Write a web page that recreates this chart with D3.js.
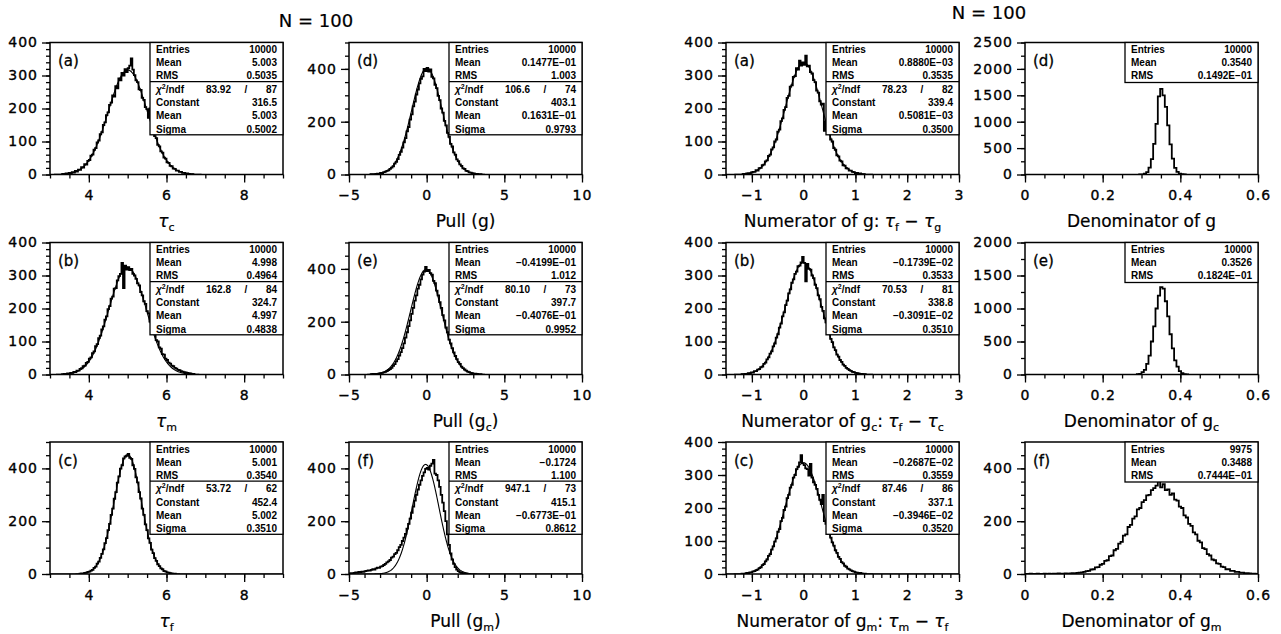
<!DOCTYPE html>
<html lang="en">
<head>
<meta charset="UTF-8">
<title>N = 100 distributions</title>
<script src="https://d3js.org/d3.v7.min.js"></script>
<style>
  body, html { margin: 0; padding: 0; background: #fff; }
  svg { display: block; }
  .tick text { font-family: 'DejaVu Sans', sans-serif; font-size: 14px; letter-spacing: 1px; fill: #000; stroke: #000; stroke-width: 0.35px; }
  .tick line { stroke: #000; stroke-width: 1.3; }
  .stat { font-family: 'Liberation Sans', Arial, sans-serif; font-weight: bold; font-size: 10px; fill: #000; }
  .title { font-family: 'DejaVu Sans', sans-serif; font-size: 17px; fill: #000; stroke: #000; stroke-width: 0.2px; }
  .tag { font-family: 'DejaVu Sans', sans-serif; font-size: 15px; fill: #000; stroke: #000; stroke-width: 0.3px; }
</style>
</head>
<body>
<svg width="1281" height="634"></svg>
<script>
// ---- histogram contents (bin counts) ----
// tau_c, bins of 0.04 starting at 3.28
const countsTauC = [0,2,1,3,2,5,3,7,6,11,9,15,14,22,21,31,30,41,44,57,60,75,80,97,103,122,128,150,158,180,
  188,211,218,240,236,268,261,291,285,308,300,319,310,
  322,330,352,318,301,285,280,258,256,232,226,204,198,172,200,148,135,116,110,90,85,70,66,51,48,37,35,26,25,18,
  17,12,12,8,8,5,5,3,3,2,1,1,0];
// tau_m, bins of 0.04 starting at 3.28
const countsTauM = [0,1,2,1,3,3,5,5,8,7,12,12,17,19,25,27,35,38,48,52,65,70,86,92,110,118,137,146,166,176,
  198,207,230,236,260,262,285,298,305,338,262,330,318,
  325,316,320,305,300,290,276,270,250,240,222,214,192,185,160,155,132,126,104,100,82,78,62,60,48,44,36,33,27,25,
  20,18,14,13,10,9,7,6,5,4,3,2,2];
// tau_f, bins of 0.04 starting at 3.76
const countsTauF = [1,2,2,4,5,8,9,13,16,23,28,39,47,61,76,93,117,136,166,190,224,248,285,310,346,370,399,412,438,445,448,
  455,440,436,412,398,366,347,310,286,248,224,188,166,135,118,92,79,60,50,37,30,21,18,11,10,6,5,3,2,1,1];
// Pull (g), bins of 0.1 starting at -3.6
const countsPullG = [1,0,1,2,3,3,6,5,9,11,14,16,21,26,31,41,48,58,74,86,102,122,138,163,180,208,228,258,276,303,
  322,345,362,372,400,392,
  404,390,398,370,364,340,327,298,282,250,234,203,186,158,143,116,106,84,75,57,51,38,33,23,21,14,13,8,7,5,4,2,2,1,1,0];
// Pull (g_c), bins of 0.1 starting at -3.6
const countsPullGc = [1,2,1,2,2,4,5,6,8,10,13,17,20,25,33,39,50,58,72,85,100,118,140,160,183,205,230,252,280,300,
  325,340,360,378,390,408,
  392,396,384,378,355,346,318,300,274,252,225,205,178,160,132,118,100,84,70,58,47,40,30,24,19,15,11,9,6,5,3,3,2,1,1,0];
// Pull (g_m), bins of 0.1 starting at -5.0
const countsPullGm = [2,3,3,4,6,5,8,7,9,8,11,12,14,13,16,18,17,21,24,23,28,30,34,38,44,48,53,62,66,75,
  80,90,102,110,125,138,152,172,190,210,232,255,278,300,320,338,355,372,385,398,
  402,395,410,418,432,380,375,355,330,300,270,238,200,150,110,78,55,38,26,17,11,7,4,3,2,1];
// Numerator of g, bins of 0.03 starting at -1.2
const countsNumG = [0,2,1,3,4,3,6,8,8,13,12,19,20,28,30,40,43,56,60,76,82,100,106,130,136,162,170,196,204,232,
  238,266,270,296,298,322,318,345,330,340,
  332,360,328,330,310,306,286,280,254,248,222,212,215,132,160,138,128,106,100,80,75,58,55,42,40,28,27,19,18,12,
  12,8,7,4,5,2,3,1,1,0];
// Numerator of g_c, bins of 0.03 starting at -1.2
const countsNumGc = [1,1,2,2,4,4,6,6,10,10,15,16,22,24,32,36,46,52,63,70,85,94,112,122,142,154,176,188,210,224,
  246,258,278,288,305,312,328,330,340,356,
  338,282,335,320,318,300,292,272,262,240,228,205,193,170,158,138,126,108,98,82,74,60,54,44,38,30,26,20,17,13,
  11,8,7,5,4,3,2,2,1,1];
// Numerator of g_m, bins of 0.03 starting at -1.2
const countsNumGm = [1,1,1,3,3,5,5,8,9,12,13,18,20,27,30,38,44,55,60,74,84,98,108,128,136,160,170,194,204,230,
  240,262,270,292,300,318,325,338,360,335,
  330,320,318,298,334,292,278,270,258,240,225,212,240,160,152,140,124,110,96,86,72,64,52,46,36,32,25,22,16,14,
  11,9,7,5,4,3,3,2,1,1];
// Denominator of g, bins of 0.006 starting at 0.294
const countsDenG = [1,4,15,45,130,290,580,960,1480,1620,1500,1280,930,570,300,125,50,15,5,2];
// Denominator of g_c, bins of 0.006 starting at 0.288
const countsDenGc = [5,10,35,70,160,285,500,730,1000,1195,1325,1300,1110,880,610,395,215,118,50,22,7,3];
// Denominator of g_m, bins of 0.006 starting at 0
const countsDenGm = [0,0,1,0,0,1,0,0,1,0, 1,0,1,1,2,1,1,2,1,2, 3,2,4,5,6,8,11,12,17,18,
  25,26,35,38,50,52,68,70,90,95, 115,122,145,150,178,186,210,218,245,250,
  272,280,298,300,318,325,335,352,328,340, 318,320,300,305,282,278,255,250,222,214,
  190,182,158,150,126,120,98,94,75,70, 55,52,40,38,28,26,18,18,12,12, 8,8,5,5,3,3,2,1,1,0];

// ---- statistics boxes: Entries, Mean, RMS ----
const statsTauC = ["10000", "5.003", "0.5035"];
const statsTauM = ["10000", "4.998", "0.4964"];
const statsTauF = ["10000", "5.001", "0.3540"];
const statsPullG = ["10000", "0.1477E\u221201", "1.003"];
const statsPullGc = ["10000", "\u22120.4199E\u221201", "1.012"];
const statsPullGm = ["10000", "\u22120.1724", "1.100"];
const statsNumG = ["10000", "0.8880E\u221203", "0.3535"];
const statsNumGc = ["10000", "\u22120.1739E\u221202", "0.3533"];
const statsNumGm = ["10000", "\u22120.2687E\u221202", "0.3559"];
const statsDenG = ["10000", "0.3540", "0.1492E\u221201"];
const statsDenGc = ["10000", "0.3526", "0.1824E\u221201"];
const statsDenGm = ["9975", "0.3488", "0.7444E\u221201"];

// ---- gaussian fits: chi2, ndf, Constant, Mean, Sigma (as printed) ----
const fitTextTauC = ["83.92", "87", "316.5", "5.003", "0.5002"];
const fitTextTauM = ["162.8", "84", "324.7", "4.997", "0.4838"];
const fitTextTauF = ["53.72", "62", "452.4", "5.002", "0.3510"];
const fitTextPullG = ["106.6", "74", "403.1", "0.1631E\u221201", "0.9793"];
const fitTextPullGc = ["80.10", "73", "397.7", "\u22120.4076E\u221201", "0.9952"];
const fitTextPullGm = ["947.1", "73", "415.1", "\u22120.6773E\u221201", "0.8612"];
const fitTextNumG = ["78.23", "82", "339.4", "0.5081E\u221203", "0.3500"];
const fitTextNumGc = ["70.53", "81", "338.8", "\u22120.3091E\u221202", "0.3510"];
const fitTextNumGm = ["87.46", "86", "337.1", "\u22120.3946E\u221202", "0.3520"];
// numeric fit parameters: constant, mean, sigma
const fitParTauC = [316.5, 5.003, 0.5002];
const fitParTauM = [324.7, 4.997, 0.4838];
const fitParTauF = [452.4, 5.002, 0.3510];
const fitParPullG = [403.1, 0.01631, 0.9793];
const fitParPullGc = [397.7, -0.04076, 0.9952];
const fitParPullGm = [415.1, -0.06773, 0.8612];
const fitParNumG = [339.4, 0.0005081, 0.3500];
const fitParNumGc = [338.8, -0.003091, 0.3510];
const fitParNumGm = [337.1, -0.003946, 0.3520];

// ---- axis ticks ----
const xTicksTau = [4, 6, 8];
const xTicksPull = [-5, 0, 5, 10];
const xTicksNum = [-1, 0, 1, 2, 3];
const xTicksDen = [0, 0.2, 0.4, 0.6];
const yTicks400 = [0, 100, 200, 300, 400];
const yTicks500 = [0, 200, 400];
const yTicks2500 = [0, 500, 1000, 1500, 2000, 2500];
const yTicks2000 = [0, 500, 1000, 1500, 2000];

// ---- titles (text pieces: n normal, i italic, s subscript) ----
const tau = s => [["\u03c4", "i"], [s, "s"]];
const titleTauC = tau("c"), titleTauM = tau("m"), titleTauF = tau("f");
const titlePullG = [["Pull (g)", "n"]];
const titlePullGc = [["Pull (g", "n"], ["c", "s"], [")", "n"]];
const titlePullGm = [["Pull (g", "n"], ["m", "s"], [")", "n"]];
const titleNumG = [["Numerator of g: ", "n"], ...tau("f"), [" \u2212 ", "n"], ...tau("g")];
const titleNumGc = [["Numerator of g", "n"], ["c", "s"], [": ", "n"], ...tau("f"), [" \u2212 ", "n"], ...tau("c")];
const titleNumGm = [["Numerator of g", "n"], ["m", "s"], [": ", "n"], ...tau("m"), [" \u2212 ", "n"], ...tau("f")];
const titleDenG = [["Denominator of g", "n"]];
const titleDenGc = [["Denominator of g", "n"], ["c", "s"]];
const titleDenGm = [["Denominator of g", "n"], ["m", "s"]];

const colX = [50, 349, 726, 1025];
const rowY = [42.5, 242.5, 442];
const W = 233, H = 132;

const fmtInt = d3.format("d");
const fmtDen = d => d === 0 ? "0" : d3.format(".1f")(d);

const tauAxis = {xd: [3, 9], xt: xTicksTau, xm: 0.5, xf: fmtInt};
const pullAxis = {xd: [-5, 10], xt: xTicksPull, xm: 1, xf: fmtInt};
const numAxis = {xd: [-1.5, 3], xt: xTicksNum, xm: 1 / 6, xf: fmtInt};
const denAxis = {xd: [0, 0.6], xt: xTicksDen, xm: 0.05, xf: fmtDen};

const panels = [
  {c: 0, r: 0, tag: "(a)", ...tauAxis, yd: 400, yt: yTicks400, ym: 20, counts: countsTauC, start: 3.28, bw: 0.04, stats: statsTauC, fitText: fitTextTauC, fit: fitParTauC, title: titleTauC},
  {c: 0, r: 1, tag: "(b)", ...tauAxis, yd: 400, yt: yTicks400, ym: 20, counts: countsTauM, start: 3.28, bw: 0.04, stats: statsTauM, fitText: fitTextTauM, fit: fitParTauM, title: titleTauM},
  {c: 0, r: 2, tag: "(c)", ...tauAxis, yd: 500, yt: yTicks500, ym: 50, counts: countsTauF, start: 3.76, bw: 0.04, stats: statsTauF, fitText: fitTextTauF, fit: fitParTauF, title: titleTauF},
  {c: 1, r: 0, tag: "(d)", ...pullAxis, yd: 500, yt: yTicks500, ym: 50, counts: countsPullG, start: -3.6, bw: 0.1, stats: statsPullG, fitText: fitTextPullG, fit: fitParPullG, title: titlePullG},
  {c: 1, r: 1, tag: "(e)", ...pullAxis, yd: 500, yt: yTicks500, ym: 50, counts: countsPullGc, start: -3.6, bw: 0.1, stats: statsPullGc, fitText: fitTextPullGc, fit: fitParPullGc, title: titlePullGc},
  {c: 1, r: 2, tag: "(f)", ...pullAxis, yd: 500, yt: yTicks500, ym: 50, counts: countsPullGm, start: -5.0, bw: 0.1, stats: statsPullGm, fitText: fitTextPullGm, fit: fitParPullGm, title: titlePullGm},
  {c: 2, r: 0, tag: "(a)", ...numAxis, yd: 400, yt: yTicks400, ym: 20, counts: countsNumG, start: -1.2, bw: 0.03, stats: statsNumG, fitText: fitTextNumG, fit: fitParNumG, title: titleNumG},
  {c: 2, r: 1, tag: "(b)", ...numAxis, yd: 400, yt: yTicks400, ym: 20, counts: countsNumGc, start: -1.2, bw: 0.03, stats: statsNumGc, fitText: fitTextNumGc, fit: fitParNumGc, title: titleNumGc},
  {c: 2, r: 2, tag: "(c)", ...numAxis, yd: 400, yt: yTicks400, ym: 20, counts: countsNumGm, start: -1.2, bw: 0.03, stats: statsNumGm, fitText: fitTextNumGm, fit: fitParNumGm, title: titleNumGm},
  {c: 3, r: 0, tag: "(d)", ...denAxis, yd: 2500, yt: yTicks2500, ym: 250, counts: countsDenG, start: 0.294, bw: 0.006, stats: statsDenG, title: titleDenG},
  {c: 3, r: 1, tag: "(e)", ...denAxis, yd: 2000, yt: yTicks2000, ym: 250, counts: countsDenGc, start: 0.288, bw: 0.006, stats: statsDenGc, title: titleDenGc},
  {c: 3, r: 2, tag: "(f)", ...denAxis, yd: 500, yt: yTicks500, ym: 50, counts: countsDenGm, start: 0, bw: 0.006, stats: statsDenGm, title: titleDenGm}
];

const svg = d3.select("svg");

svg.append("text").attr("class", "title").style("font-size", "18px")
  .attr("x", 316).attr("y", 27).attr("text-anchor", "middle").text("N = 100");
svg.append("text").attr("class", "title").style("font-size", "18px")
  .attr("x", 989).attr("y", 19).attr("text-anchor", "middle").text("N = 100");

panels.forEach((p, idx) => {
  const g = svg.append("g").attr("transform", `translate(${colX[p.c]},${rowY[p.r]})`);
  const x = d3.scaleLinear().domain(p.xd).range([0, W]);
  const y = d3.scaleLinear().domain([0, p.yd]).range([H, 0]);

  const clipId = "clip" + idx;
  g.append("clipPath").attr("id", clipId).append("rect").attr("width", W).attr("height", H);
  const plot = g.append("g").attr("clip-path", `url(#${clipId})`);

  // histogram outline
  let d = `M${x(p.start)},${y(0)}`;
  p.counts.forEach((v, i) => {
    d += `V${y(v)}H${x(p.start + (i + 1) * p.bw)}`;
  });
  d += `V${y(0)}`;
  plot.append("path").attr("d", d).attr("fill", "none")
    .attr("stroke", "#000").attr("stroke-width", 1.8).attr("stroke-linejoin", "miter");

  // gaussian fit curve
  if (p.fit) {
    const [k, m, s] = p.fit;
    const xs = d3.range(801).map(i => p.xd[0] + (p.xd[1] - p.xd[0]) * i / 800);
    const line = d3.line().x(v => x(v)).y(v => y(k * Math.exp(-0.5 * ((v - m) / s) ** 2)));
    plot.append("path").attr("d", line(xs)).attr("fill", "none")
      .attr("stroke", "#000").attr("stroke-width", 1.1);
  }

  // axes: minor ticks, then major ticks with labels
  const minorX = d3.range(0, Math.round((p.xd[1] - p.xd[0]) / p.xm) + 1).map(i => p.xd[0] + i * p.xm);
  const minorY = d3.range(0, p.yd + 1e-9, p.ym);
  g.append("g").attr("transform", `translate(0,${H})`)
    .call(d3.axisBottom(x).tickValues(minorX).tickSize(4).tickFormat(""))
    .call(a => a.select(".domain").remove());
  g.append("g").attr("transform", `translate(0,${H})`)
    .call(d3.axisBottom(x).tickValues(p.xt).tickSize(8).tickPadding(8).tickFormat(p.xf))
    .call(a => a.select(".domain").remove());
  g.append("g")
    .call(d3.axisLeft(y).tickValues(minorY).tickSize(4).tickFormat(""))
    .call(a => a.select(".domain").remove());
  g.append("g")
    .call(d3.axisLeft(y).tickValues(p.yt).tickSize(8).tickPadding(4).tickFormat(fmtInt))
    .call(a => a.select(".domain").remove());
  g.selectAll(".tick text").attr("font-family", null).attr("font-size", null);

  // frame
  g.append("rect").attr("width", W).attr("height", H)
    .attr("fill", "none").attr("stroke", "#000").attr("stroke-width", 1.5);

  // panel tag
  g.append("text").attr("class", "tag").attr("x", 8).attr("y", 23.5).text(p.tag);

  // statistics box
  const bwid = 133, bx = W - bwid;
  const bh = p.fit ? 92.3 : 40;
  const box = g.append("g").attr("transform", `translate(${bx},0)`);
  box.append("rect").attr("width", bwid).attr("height", bh)
    .attr("fill", "#fff").attr("stroke", "#000").attr("stroke-width", 1.3);
  const row = (label, value, yy) => {
    box.append("text").attr("class", "stat").attr("x", 6).attr("y", yy).text(label);
    box.append("text").attr("class", "stat").attr("x", bwid - 6).attr("y", yy)
      .attr("text-anchor", "end").text(value);
  };
  ["Entries", "Mean", "RMS"].forEach((lab, i) => row(lab, p.stats[i], 10.5 + 13.2 * i));
  if (p.fit) {
    box.append("line").attr("x1", 0).attr("x2", bwid).attr("y1", 39.2).attr("y2", 39.2)
      .attr("stroke", "#000").attr("stroke-width", 1.3);
    const t = box.append("text").attr("class", "stat").attr("x", 6).attr("y", 50.3);
    t.append("tspan").style("font-style", "italic").text("\u03c7");
    t.append("tspan").attr("dy", -4).style("font-size", "7px").text("2");
    t.append("tspan").attr("dy", 4).text("/ndf");
    box.append("text").attr("class", "stat").attr("x", 81).attr("y", 50.3)
      .attr("text-anchor", "end").text(p.fitText[0]);
    box.append("text").attr("class", "stat").attr("x", 96).attr("y", 50.3)
      .attr("text-anchor", "middle").text("/");
    box.append("text").attr("class", "stat").attr("x", bwid - 6).attr("y", 50.3)
      .attr("text-anchor", "end").text(p.fitText[1]);
    ["Constant", "Mean", "Sigma"].forEach((lab, i) => row(lab, p.fitText[i + 2], 63.6 + 13.3 * i));
  }

  // axis title
  const tt = g.append("text").attr("class", "title").attr("x", W / 2).attr("y", H + 52.5)
    .attr("text-anchor", "middle");
  let shifted = false;
  p.title.forEach(([txt, kind]) => {
    const ts = tt.append("tspan").text(txt);
    if (kind === "i") ts.style("font-style", "italic");
    if (kind === "s") {
      ts.style("font-size", "11px").attr("dy", shifted ? 0 : 4);
      shifted = true;
    } else if (shifted) {
      ts.attr("dy", -4);
      shifted = false;
    }
  });
});
</script>
</body>
</html>
